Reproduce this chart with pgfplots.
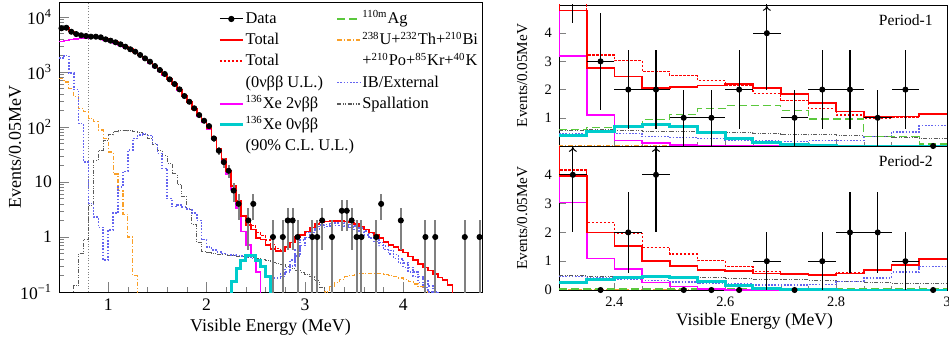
\documentclass[border=0pt]{standalone}
\usepackage{fontspec}
\setmainfont{Liberation Serif}
\usepackage{pgfplots}
\pgfplotsset{compat=1.18}
\usetikzlibrary{arrows.meta}

\definecolor{cRed}{RGB}{255,0,0}
\definecolor{cMag}{RGB}{255,0,255}
\definecolor{cCyan}{RGB}{0,204,204}
\definecolor{cGreen}{RGB}{90,200,60}
\definecolor{cOrange}{RGB}{250,160,40}
\definecolor{cBlue}{RGB}{100,100,240}
\definecolor{cGray}{RGB}{90,90,90}
\definecolor{cErr}{RGB}{128,128,128}
\newcommand{\su}[1]{\textsuperscript{\fontsize{5.4}{6}\selectfont #1}}

\tikzset{
 totS/.style={color=cRed, line width=0.8pt},
 totD/.style={color=cRed, line width=0.6pt, dash pattern=on 1.2pt off 0.8pt},
 magS/.style={color=cMag, line width=0.8pt},
 cyaS/.style={color=cCyan, line width=1.5pt},
 agS/.style={color=cGreen, line width=0.6pt, dash pattern=on 4pt off 2pt},
 orS/.style={color=cOrange, line width=0.6pt, dash pattern=on 2.2pt off 1pt on 0.5pt off 1pt},
 blS/.style={color=cBlue, line width=0.8pt, dash pattern=on 0.8pt off 0.8pt},
 spS/.style={color=cGray, line width=0.5pt, dash pattern=on 2pt off 0.8pt on 0.4pt off 0.8pt on 0.4pt off 0.8pt},
}

\begin{document}
\begin{tikzpicture}
\useasboundingbox (0,0) rectangle (474.5pt,172pt);
% ================= LEFT PANEL =================
\begin{axis}[
 at={(29.5pt,26pt)}, anchor=south west, scale only axis,
 width=211.5pt, height=145pt,
 xmin=0.5, xmax=4.8, ymode=log, ymin=0.1, ymax=18750,
 xtick={1,2,3,4}, minor x tick num=4,
 ytick={0.1,1,10,100,1000,10000},
 yticklabels={10\textsuperscript{−1},1,10,10\textsuperscript{2},10\textsuperscript{3},10\textsuperscript{4}},
 minor ytick={0.2,0.3,0.4,0.5,0.6,0.7,0.8,0.9,2,3,4,5,6,7,8,9,20,30,40,50,60,70,80,90,200,300,400,500,600,700,800,900,2000,3000,4000,5000,6000,7000,8000,9000},
 tick align=inside, tick pos=left,
 major tick length=5pt, minor tick length=2.5pt,
 /pgf/number format/assume math mode=true,
 tick label style={font=\rmfamily\fontsize{8.8}{10}\selectfont},
 xlabel={Visible Energy (MeV)}, ylabel={Events/0.05MeV},
 label style={font=\rmfamily\fontsize{9}{10}\selectfont},
 xlabel style={at={(axis description cs:0.5,-0.12)}, anchor=center},
 ylabel style={at={(axis description cs:-0.104,0.5)}, anchor=center},
 legend columns=2, legend cell align=left,
 legend image code/.code={\draw[mark repeat=2,mark phase=2,#1] plot coordinates {(0cm,0cm) (0.2cm,0cm) (0.4cm,0cm)};},
 legend style={draw=none, fill=none, at={(0.376,0.977)}, anchor=north west, inner sep=0pt,
   font=\rmfamily\fontsize{8.2}{9}\selectfont, row sep=0.7pt,
   nodes={inner sep=0.7pt, text height=6.5pt, text depth=2pt},
   /tikz/every even column/.append style={column sep=6pt}},
]
% vertical dotted line
\addplot[forget plot, gray, line width=0.4pt, densely dotted] coordinates {(0.8,0.1) (0.8,18750)};
% orange U/Th low energy
\addplot[forget plot, orS, const plot] table[row sep=\\]{x y\\
0.50 770\\0.55 660\\0.60 500\\0.65 355\\0.70 220\\0.75 190\\0.80 145\\0.85 126\\0.90 88\\0.95 62\\1.00 35\\1.05 14\\1.10 7\\1.15 2.6\\1.20 1.0\\1.25 0.2\\1.30 0.01\\1.35 0.01\\};
% orange high energy
\addplot[forget plot, orS, const plot] table[row sep=\\]{x y\\
3.15 0.01\\3.20 0.1\\3.25 0.125\\3.30 0.15\\3.35 0.17\\3.40 0.19\\3.45 0.2\\3.50 0.21\\3.55 0.215\\3.60 0.22\\3.65 0.22\\3.70 0.22\\3.75 0.215\\3.80 0.21\\3.85 0.2\\3.90 0.19\\3.95 0.18\\4.00 0.17\\4.05 0.155\\4.10 0.14\\4.15 0.125\\4.20 0.112\\4.25 0.1\\4.30 0.01\\4.35 0.01\\};
% spallation
\addplot[forget plot, spS, const plot] table[row sep=\\]{x y\\
0.60 0.09\\0.65 0.13\\0.70 0.5\\0.75 0.9\\0.80 3.8\\0.85 25\\0.90 38\\0.95 58\\1.00 72\\1.05 82\\1.10 88\\1.15 88\\1.20 85\\1.25 82\\1.30 80\\1.35 72\\1.40 62\\1.45 48\\1.50 38\\1.55 30\\1.60 22\\1.65 14\\1.70 9\\1.75 5.5\\1.80 3.2\\1.85 1.7\\1.90 0.8\\1.95 0.55\\2.00 0.52\\2.05 0.5\\2.10 0.49\\2.15 0.48\\2.20 0.47\\2.25 0.46\\2.30 0.45\\2.35 0.44\\2.40 0.43\\2.45 0.42\\2.50 0.41\\2.55 0.39\\2.60 0.37\\2.65 0.35\\2.70 0.33\\2.75 0.31\\2.80 0.29\\2.85 0.27\\2.90 0.25\\2.95 0.23\\3.00 0.21\\3.05 0.19\\3.10 0.16\\3.15 0.12\\3.20 0.01\\3.25 0.01\\};
% IB/External
\addplot[forget plot, blS, const plot] table[row sep=\\]{x y\\
0.50 1780\\0.55 2000\\0.60 950\\0.65 480\\0.70 115\\0.75 23\\0.80 4.1\\0.85 2.3\\0.90 1.5\\0.95 0.38\\1.00 1.34\\1.05 2.7\\1.10 8.2\\1.15 15.6\\1.20 38\\1.25 62\\1.30 72\\1.35 74\\1.40 70\\1.45 50\\1.50 33\\1.55 17.7\\1.60 5\\1.65 3.6\\1.70 3.8\\1.75 3.5\\1.80 3.2\\1.85 2.7\\1.90 2.0\\1.95 0.9\\2.00 0.66\\2.05 0.58\\2.10 0.54\\2.15 0.5\\2.20 0.48\\2.25 0.47\\2.30 0.46\\2.35 0.45\\2.40 0.43\\2.45 0.41\\2.50 0.36\\2.55 0.3\\2.60 0.2\\2.65 0.18\\2.70 0.18\\2.75 0.21\\2.80 0.28\\2.85 0.38\\2.90 0.58\\2.95 0.89\\3.00 1.2\\3.05 1.4\\3.10 1.55\\3.15 1.65\\3.20 1.7\\3.25 1.75\\3.30 1.78\\3.35 1.78\\3.40 1.76\\3.45 1.7\\3.50 1.6\\3.55 1.45\\3.60 1.3\\3.65 1.15\\3.70 1.0\\3.75 0.8\\3.80 0.68\\3.85 0.57\\3.90 0.48\\3.95 0.4\\4.00 0.34\\4.05 0.28\\4.10 0.23\\4.15 0.19\\4.20 0.16\\4.25 0.13\\4.30 0.1\\4.35 0.01\\4.40 0.01\\};
\addplot[forget plot, blS, const plot] table[row sep=\\]{x y\\
2.75 0.19\\2.80 0.23\\2.85 0.3\\2.90 0.45\\2.95 0.7\\3.00 0.98\\3.05 1.2\\3.10 1.38\\3.15 1.5\\3.20 1.56\\3.25 1.6\\3.30 1.62\\3.35 1.62\\3.40 1.58\\3.45 1.5\\3.50 1.38\\3.55 1.24\\3.60 1.1\\3.65 0.96\\3.70 0.83\\3.75 0.7\\3.80 0.59\\3.85 0.49\\3.90 0.41\\3.95 0.34\\4.00 0.28\\4.05 0.23\\4.10 0.19\\4.15 0.15\\4.20 0.12\\4.25 0.1\\4.30 0.01\\4.35 0.01\\};
% 2nbb
\addplot[forget plot, magS, const plot] table[row sep=\\]{x y\\
0.50 3600\\0.55 3750\\0.60 3900\\0.65 4000\\0.70 4100\\0.75 4200\\0.80 4270\\0.85 4300\\0.90 4150\\0.95 3850\\1.00 3640\\1.05 3400\\1.10 3130\\1.15 2840\\1.20 2550\\1.25 2270\\1.30 1980\\1.35 1700\\1.40 1460\\1.45 1240\\1.50 1045\\1.55 880\\1.60 725\\1.65 590\\1.70 470\\1.75 362\\1.80 280\\1.85 210\\1.90 158\\1.95 120\\2.00 90\\2.05 60\\2.10 37\\2.15 23\\2.20 14\\2.25 7.5\\2.30 3.4\\2.35 1.25\\2.40 0.72\\2.45 0.44\\2.50 0.23\\2.55 0.01\\2.60 0.01\\};
% 0nbb
\addplot[forget plot, cyaS, const plot] table[row sep=\\]{x y\\
2.20 0.01\\2.25 0.155\\2.30 0.27\\2.35 0.38\\2.40 0.47\\2.45 0.47\\2.50 0.38\\2.55 0.29\\2.60 0.19\\2.65 0.01\\2.70 0.01\\};
% total dashed
\addplot[forget plot, totD, const plot] table[row sep=\\]{x y\\
2.30 4.5\\2.35 2.5\\2.40 2.0\\2.45 1.6\\2.50 1.2\\2.55 1.05\\2.60 0.88\\2.65 0.72\\2.70 0.62\\2.75 0.56\\2.80 0.66\\2.85 0.66\\};
% total solid
\addplot[forget plot, totS, const plot] table[row sep=\\]{x y\\
0.50 6200\\0.55 6300\\0.60 5450\\0.65 4900\\0.70 4650\\0.75 4500\\0.80 4400\\0.85 4380\\0.90 4260\\0.95 3950\\1.00 3720\\1.05 3470\\1.10 3190\\1.15 2890\\1.20 2600\\1.25 2330\\1.30 2050\\1.35 1770\\1.40 1530\\1.45 1290\\1.50 1080\\1.55 900\\1.60 740\\1.65 600\\1.70 480\\1.75 370\\1.80 285\\1.85 215\\1.90 162\\1.95 125\\2.00 95\\2.05 64\\2.10 40\\2.15 26\\2.20 16\\2.25 8.5\\2.30 4.5\\2.35 2.4\\2.40 1.65\\2.45 1.38\\2.50 0.95\\2.55 0.9\\2.60 0.72\\2.65 0.6\\2.70 0.55\\2.75 0.55\\2.80 0.66\\2.85 0.8\\2.90 1.0\\2.95 1.1\\3.00 1.25\\3.05 1.5\\3.10 1.72\\3.15 1.85\\3.20 1.92\\3.25 1.94\\3.30 1.95\\3.35 1.95\\3.40 1.92\\3.45 1.85\\3.50 1.72\\3.55 1.54\\3.60 1.38\\3.65 1.2\\3.70 1.09\\3.75 0.95\\3.80 0.82\\3.85 0.72\\3.90 0.65\\3.95 0.58\\4.00 0.52\\4.05 0.44\\4.10 0.38\\4.15 0.32\\4.20 0.28\\4.25 0.245\\4.30 0.21\\4.35 0.185\\4.40 0.165\\4.45 0.135\\4.50 0.01\\4.55 0.01\\};
% data
\addplot[forget plot, only marks, mark=*, mark size=1.3pt, mark options={black, fill=black},
  error bars/.cd, y dir=both, y explicit, error mark=none, error bar style={cErr, line width=1pt}]
 table[row sep=\\, x=x, y=y, y error plus=ep, y error minus=em]{x y ep em\\
0.525 6240 79 79\\0.575 6380 80 80\\0.625 5400 73 73\\0.675 4900 70 70\\0.725 4650 68 68\\0.775 4510 67 67\\0.825 4390 66 66\\0.875 4390 66 66\\0.925 4270 65 65\\0.975 3930 63 63\\1.025 3710 61 61\\1.075 3470 59 59\\1.125 3190 56 56\\1.175 2890 54 54\\1.225 2590 51 51\\1.275 2340 48 48\\1.325 2040 45 45\\1.375 1770 42 42\\1.425 1540 39 39\\1.475 1285 36 36\\1.525 1088 33 33\\1.575 920 30 30\\1.625 736 27 27\\1.675 605 25 25\\1.725 484 22 22\\1.775 366 19 19\\1.825 288 17 17\\1.875 219 15 15\\1.925 165 13 13\\1.975 130 11.4 11.4\\2.025 104 10.2 10.2\\2.075 62 7.9 7.9\\2.125 37 6.1 6.1\\2.175 23 4.8 4.8\\2.225 16 4 4\\2.275 7 2.65 2.65\\2.325 4 2 2\\2.425 2 1.414 1.414\\2.475 4 2 2\\2.675 1 1 0.99\\2.775 1 1 0.99\\2.825 2 1.414 1.414\\2.875 2 1.414 1.414\\2.925 1 1 0.99\\3.075 1 1 0.99\\3.125 1 1 0.99\\3.175 2 1.414 1.414\\3.275 1 1 0.99\\3.375 3 1.732 1.732\\3.425 3 1.732 1.732\\3.475 2 1.414 1.414\\3.525 1 1 0.99\\3.575 1 1 0.99\\3.725 1 1 0.99\\3.775 4 2 2\\3.975 2 1.414 1.414\\4.225 1 1 0.99\\4.325 1 1 0.99\\4.625 1 1 0.99\\4.775 1 1 0.99\\};
% legend
\addlegendimage{black, line width=0.5pt, mark=*, mark size=1.3pt, mark options={solid, fill=black}}
\addlegendentry{Data}
\addlegendimage{color=cGreen, line width=0.9pt, dash pattern=on 4pt off 2pt}
\addlegendentry{\su{110m}Ag}
\addlegendimage{color=cRed, line width=1pt, solid}
\addlegendentry{Total}
\addlegendimage{color=cOrange, line width=0.9pt, dash pattern=on 2.2pt off 1pt on 0.5pt off 1pt}
\addlegendentry{\su{238}U+\su{232}Th+\su{210}Bi}
\addlegendimage{color=cRed, line width=1pt, dash pattern=on 1.2pt off 0.8pt}
\addlegendentry{Total}
\addlegendimage{empty legend}
\addlegendentry{+\su{210}Po+\su{85}Kr+\su{40}K}
\addlegendimage{empty legend}
\addlegendentry{(0νββ U.L.)}
\addlegendimage{color=cBlue, line width=0.9pt, dash pattern=on 0.8pt off 0.8pt}
\addlegendentry{IB/External}
\addlegendimage{color=cMag, line width=1pt, solid}
\addlegendentry{\su{136}Xe 2νββ}
\addlegendimage{color=cGray, line width=0.8pt, dash pattern=on 2pt off 0.8pt on 0.4pt off 0.8pt on 0.4pt off 0.8pt}
\addlegendentry{Spallation}
\addlegendimage{color=cCyan, line width=1.5pt, solid}
\addlegendentry{\su{136}Xe 0νββ}
\addlegendimage{empty legend}
\addlegendentry{}
\addlegendimage{empty legend}
\addlegendentry{\makebox[0pt][l]{(90\% C.L. U.L.)}}
\end{axis}

% ================= RIGHT TOP: PERIOD-1 =================
\begin{axis}[
 at={(279.5pt,99pt)}, anchor=south west, scale only axis,
 width=194pt, height=70.5pt,
 xmin=2.3, xmax=3.0, ymin=0, ymax=5,
 xtick={2.4,2.6,2.8,3.0}, xticklabels={}, minor x tick num=3,
 ytick={1,2,3,4},
 tick align=inside, tick pos=left,
 major tick length=3.5pt, minor tick length=2pt,
 /pgf/number format/assume math mode=true,
 tick label style={font=\rmfamily\fontsize{7.2}{8}\selectfont},
 ylabel={Events/0.05MeV},
 label style={font=\rmfamily\fontsize{7.6}{8}\selectfont},
 ylabel style={at={(axis description cs:-0.095,0.5)}, anchor=center},
]
\addplot[orS, const plot] table[row sep=\\]{x y\\2.30 0.03\\3.00 0.03\\};
\addplot[spS, const plot] table[row sep=\\]{x y\\
2.30 0.55\\2.35 0.58\\2.40 0.55\\2.45 0.53\\2.50 0.5\\2.55 0.48\\2.60 0.47\\2.65 0.45\\2.70 0.42\\2.75 0.4\\2.80 0.37\\2.85 0.33\\2.90 0.3\\2.95 0.25\\3.00 0.25\\};
\addplot[blS, const plot] table[row sep=\\]{x y\\
2.30 0.42\\2.35 0.5\\2.40 0.45\\2.45 0.33\\2.50 0.3\\2.55 0.26\\2.60 0.22\\2.65 0.17\\2.70 0.16\\2.75 0.19\\2.80 0.2\\2.85 0.33\\2.90 0.5\\2.95 0.72\\3.00 0.72\\};
\addplot[agS, const plot] table[row sep=\\]{x y\\
2.30 0.58\\2.35 0.67\\2.40 0.72\\2.45 0.95\\2.50 1.12\\2.55 1.34\\2.60 1.44\\2.65 1.44\\2.70 1.27\\2.75 0.96\\2.80 0.96\\2.85 0.35\\2.90 0.33\\2.95 0.07\\3.00 0.07\\};
\addplot[magS, const plot] table[row sep=\\]{x y\\
2.25 8\\2.30 3.2\\2.35 1.1\\2.40 0.2\\2.45 0.1\\2.50 0.04\\2.55 0.02\\2.60 0.01\\2.65 0.0\\3.00 0.0\\};
\addplot[cyaS, const plot] table[row sep=\\]{x y\\
2.30 0.39\\2.35 0.53\\2.40 0.7\\2.45 0.77\\2.50 0.68\\2.55 0.48\\2.60 0.27\\2.65 0.12\\2.70 0.04\\2.75 0.02\\2.80 0.0\\3.00 0.0\\};
\addplot[totD, const plot] table[row sep=\\]{x y\\
2.30 5.6\\2.35 3.23\\2.40 3.02\\2.45 2.63\\2.50 2.49\\2.55 2.32\\2.60 2.14\\2.65 1.87\\2.70 1.61\\2.75 1.34\\2.80 1.1\\2.85 0.99\\2.90 1.02\\2.95 1.14\\3.00 1.14\\};
\addplot[totS, const plot] table[row sep=\\]{x y\\
2.25 9\\2.30 4.8\\2.35 2.76\\2.40 2.46\\2.45 2.06\\2.50 2.1\\2.55 2.14\\2.60 2.2\\2.65 2.06\\2.70 1.85\\2.75 1.53\\2.80 1.23\\2.85 1.02\\2.90 1.04\\2.95 1.14\\3.00 1.14\\};
% data
\addplot[mark=none, draw=none, error bars/.cd, y dir=both, y explicit, error mark=none, error bar style={black, line width=0.6pt}]
 table[row sep=\\, x=x, y=y, y error plus=ep, y error minus=em]{x y ep em\\2.325 7 2.646 2.646\\};
\addplot[only marks, mark=*, mark size=1.3pt, mark options={black, fill=black},
  error bars/.cd, x dir=both, x fixed=0.025, y dir=both, y explicit, error mark=none, error bar style={black, line width=0.6pt}]
 table[row sep=\\, x=x, y=y, y error plus=ep, y error minus=em]{x y ep em\\
2.375 3 1.732 1.732\\2.425 2 1.414 1.414\\2.475 2 1.414 1.414\\2.525 1 1 1\\2.575 1 1 1\\2.625 2 1.414 1.414\\2.675 4 2 2\\2.725 1 1 1\\2.775 2 1.414 1.414\\2.825 2 1.414 1.414\\2.875 1 1 1\\2.925 2 1.414 1.414\\};
\addplot[only marks, mark=*, mark size=1.3pt, mark options={black, fill=black}] table[row sep=\\]{x y\\2.975 0\\};
\addplot[black, line width=0.5pt, -{To[length=2.5pt,width=4pt]}, quiver={u=0,v=\thisrow{v}}] table[row sep=\\]{x y v\\2.675 4.5 0.47\\};
\node[font=\rmfamily\fontsize{7.8}{9}\selectfont] at (rel axis cs:0.894,0.894) {Period-1};
\end{axis}

% ================= RIGHT BOTTOM: PERIOD-2 =================
\begin{axis}[
 at={(279.5pt,27pt)}, anchor=south west, scale only axis,
 width=194pt, height=72pt,
 xmin=2.3, xmax=3.0, ymin=0, ymax=5,
 xtick={2.4,2.6,2.8,3.0}, xticklabels={2.4,2.6,2.8,3}, minor x tick num=3,
 ytick={0,1,2,3,4},
 tick align=inside, tick pos=left,
 major tick length=3.5pt, minor tick length=2pt,
 /pgf/number format/assume math mode=true,
 tick label style={font=\rmfamily\fontsize{7.2}{8}\selectfont},
 xlabel={Visible Energy (MeV)}, ylabel={Events/0.05MeV},
 xlabel style={font=\rmfamily\fontsize{8.8}{10}\selectfont, at={(axis description cs:0.504,-0.215)}, anchor=center},
 ylabel style={font=\rmfamily\fontsize{7.6}{8}\selectfont, at={(axis description cs:-0.095,0.5)}, anchor=center},
]
\addplot[orS, const plot] table[row sep=\\]{x y\\2.30 0.02\\3.00 0.02\\};
\addplot[agS, const plot] table[row sep=\\]{x y\\2.30 0.035\\3.00 0.035\\};
\addplot[spS, const plot] table[row sep=\\]{x y\\
2.30 0.5\\2.35 0.47\\2.40 0.47\\2.45 0.45\\2.50 0.44\\2.55 0.42\\2.60 0.4\\2.65 0.38\\2.70 0.35\\2.75 0.33\\2.80 0.29\\2.85 0.26\\2.90 0.23\\2.95 0.21\\3.00 0.21\\};
\addplot[blS, const plot] table[row sep=\\]{x y\\
2.30 0.47\\2.35 0.42\\2.40 0.38\\2.45 0.33\\2.50 0.28\\2.55 0.23\\2.60 0.21\\2.65 0.17\\2.70 0.17\\2.75 0.19\\2.80 0.29\\2.85 0.42\\2.90 0.62\\2.95 0.81\\3.00 0.81\\};
\addplot[magS, const plot] table[row sep=\\]{x y\\
2.25 8\\2.30 3.04\\2.35 1.1\\2.40 0.72\\2.45 0.26\\2.50 0.12\\2.55 0.03\\2.60 0.01\\2.65 0.0\\3.00 0.0\\};
\addplot[cyaS, const plot] table[row sep=\\]{x y\\
2.30 0.26\\2.35 0.38\\2.40 0.45\\2.45 0.47\\2.50 0.42\\2.55 0.3\\2.60 0.15\\2.65 0.06\\2.70 0.02\\2.75 0.01\\2.80 0.0\\3.00 0.0\\};
\addplot[totD, const plot] table[row sep=\\]{x y\\
2.25 9\\2.30 4.17\\2.35 2.35\\2.40 1.97\\2.45 1.48\\2.50 1.25\\2.55 1.02\\2.60 0.81\\2.65 0.64\\2.70 0.58\\2.75 0.54\\2.80 0.6\\2.85 0.7\\2.90 0.85\\2.95 1.07\\3.00 1.07\\};
\addplot[totS, const plot] table[row sep=\\]{x y\\
2.25 9\\2.30 3.95\\2.35 1.99\\2.40 1.53\\2.45 1.0\\2.50 0.83\\2.55 0.7\\2.60 0.66\\2.65 0.58\\2.70 0.55\\2.75 0.52\\2.80 0.58\\2.85 0.7\\2.90 0.87\\2.95 1.07\\3.00 1.07\\};
\addplot[only marks, mark=*, mark size=1.3pt, mark options={black, fill=black},
  error bars/.cd, x dir=both, x fixed=0.025, y dir=both, y explicit, error mark=none, error bar style={black, line width=0.6pt}]
 table[row sep=\\, x=x, y=y, y error plus=ep, y error minus=em]{x y ep em\\
2.325 4 2 2\\2.425 2 1.414 1.414\\2.475 4 2 2\\2.675 1 1 1\\2.775 1 1 1\\2.825 2 1.414 1.414\\2.875 2 1.414 1.414\\2.925 1 1 1\\};
\addplot[only marks, mark=*, mark size=1.3pt, mark options={black, fill=black}] table[row sep=\\]{x y\\
2.375 0\\2.525 0\\2.575 0\\2.625 0\\2.725 0\\2.975 0\\};
\addplot[black, line width=0.5pt, -{To[length=2.5pt,width=4pt]}, quiver={u=0,v=\thisrow{v}}] table[row sep=\\]{x y v\\2.325 4.5 0.47\\2.475 4.5 0.47\\};
\node[font=\rmfamily\fontsize{7.8}{9}\selectfont] at (rel axis cs:0.894,0.896) {Period-2};
\end{axis}
\end{tikzpicture}
\end{document}
